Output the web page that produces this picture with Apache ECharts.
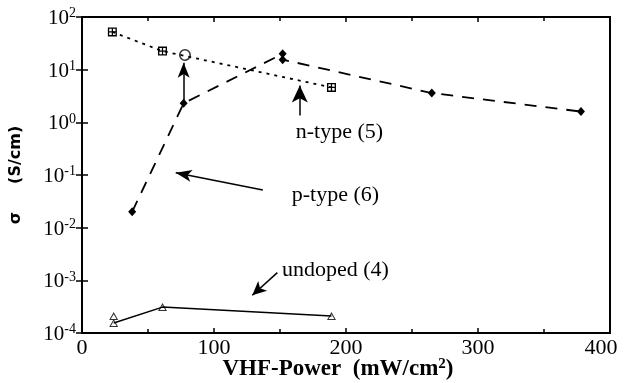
<!DOCTYPE html>
<html><head><meta charset="utf-8">
<script src="https://cdn.jsdelivr.net/npm/echarts@6/dist/echarts.min.js"></script>
<style>html,body{margin:0;padding:0;background:#fff}#c{width:624px;height:383px}</style>
</head><body><div id="c"></div>
<script>
// n-type (5): squares, dotted line
const nTypeX = [23, 61, 189];
const nTypeY = [52, 22.5, 4.6];
// extra open-circle point
const circleX = [78];
const circleY = [19];
// p-type (6): diamonds, dashed line
const pTypeX = [38, 77, 152, 152, 265, 378];
const pTypeY = [0.02, 2.3, 20, 15.5, 3.6, 1.6];
// undoped (4): triangles, solid line
const undopedX = [24, 24, 61, 189];
const undopedY = [2.1e-4, 1.55e-4, 3.1e-4, 2.1e-4];
const undopedLineX = [24, 61, 189];
const undopedLineY = [1.55e-4, 3.1e-4, 2.1e-4];
// axis ticks
const xTicks = [0, 100, 200, 300, 400];
const yTickExps = [-4, -3, -2, -1, 0, 1, 2];
// annotations: [fromX, fromY, toX, toY]
const arrowN = [165, 1.35, 165, 5.0];
const arrowP = [137, 0.052, 71, 0.11];
const arrowU = [148, 1.4e-3, 129, 5.2e-4];
const arrowV = [77, 2.6, 77, 13.5];
const labelN = ['n-type (5)', 195, 0.66];
const labelP = ['p-type (6)', 192, 0.042];
const labelU = ['undoped (4)', 192, 1.55e-3];

const zip = (xs, ys) => xs.map((x, i) => [x, ys[i]]);
const serif = 'Liberation Serif';
const sqPlus = 'path://M0,0 L10,0 L10,10 L0,10 Z M1.5,1.5 L1.5,8.5 L8.5,8.5 L8.5,1.5 Z M4.3,1.5 L5.7,1.5 L5.7,8.5 L4.3,8.5 Z M1.5,4.3 L8.5,4.3 L8.5,5.7 L1.5,5.7 Z';
const openTri = 'path://M5,0 L10,9 L0,9 Z M5,2.4 L1.9,7.8 L8.1,7.8 Z';
const openCirc = 'path://M5,0 A5,5 0 1,1 4.99,0 Z M5,1.3 A3.7,3.7 0 1,0 5.01,1.3 Z';

function arrowLine(a, size) {
  return [{coord: [a[0], a[1]], symbol: 'none'}, {coord: [a[2], a[3]], symbol: 'arrow', symbolSize: size}];
}
function labelPt(l) {
  return {coord: [l[1], l[2]], value: l[0]};
}

const chart = echarts.init(document.getElementById('c'));
chart.setOption({
  animation: false,
  grid: {left: 82, right: 14, top: 17, bottom: 50, containLabel: false, outerBoundsMode: 'none',
    show: true, borderColor: '#000', borderWidth: 2},
  xAxis: [{
    type: 'value', min: 0, max: 400, interval: 100,
    axisLine: {lineStyle: {color: '#000', width: 2}},
    axisTick: {inside: true, length: 5, lineStyle: {color: '#000', width: 1.5}},
    minorTick: {show: true, splitNumber: 2, length: 4, lineStyle: {color: '#000', width: 1.5}},
    splitLine: {show: false},
    axisLabel: {color: '#000', fontFamily: serif, fontSize: 22, margin: 4,
      formatter: v => !xTicks.includes(v) ? '' : (v === xTicks[xTicks.length - 1] ? '{r|' + v + '}' : String(v)),
      rich: {r: {fontFamily: serif, fontSize: 22, color: '#000', padding: [0, 18, 0, 0]}}},
    name: 'VHF-Power  (mW/cm{sup|2})', nameLocation: 'middle', nameGap: 24, nameMoveOverlap: false,
    nameTextStyle: {color: '#000', fontFamily: serif, fontSize: 23, fontWeight: 'bold', padding: [0, 16, 0, 0],
      rich: {sup: {fontSize: 15, fontWeight: 'bold', verticalAlign: 'top', padding: [0, 0, 10, 0], fontFamily: serif}}}
  }, {
    type: 'value', min: 0, max: 400, interval: 100, position: 'top',
    axisLine: {show: false}, axisLabel: {show: false}, splitLine: {show: false},
    axisTick: {inside: true, length: 5, lineStyle: {color: '#000', width: 1.5}},
    minorTick: {show: true, splitNumber: 2, length: 4, lineStyle: {color: '#000', width: 1.5}}
  }],
  yAxis: [{
    type: 'log', min: 1e-4, max: 1e2, logBase: 10,
    axisLine: {lineStyle: {color: '#000', width: 2}},
    axisTick: {inside: true, length: 6, lineStyle: {color: '#000', width: 1.5}},
    splitLine: {show: false},
    axisLabel: {color: '#000', fontFamily: serif, fontSize: 21, margin: 6, padding: [3, 0, 0, 0],
      formatter: v => { const e = Math.round(Math.log10(v)); return yTickExps.includes(e) ? '10{sup|' + e + '}' : ''; },
      rich: {sup: {fontSize: 14, verticalAlign: 'top', padding: [0, 0, 10, 0], fontFamily: serif, color: '#000'}}},
    name: 'σ     (S/cm)', nameLocation: 'middle', nameGap: 58, nameRotate: 90,
    nameTextStyle: {color: '#000', fontFamily: 'DejaVu Sans', fontSize: 16, fontWeight: 'bold'}
  }, {
    type: 'log', min: 1e-4, max: 1e2, logBase: 10, position: 'right',
    axisLine: {show: false}, axisLabel: {show: false}, splitLine: {show: false},
    axisTick: {inside: true, length: 6, lineStyle: {color: '#000', width: 1.5}}
  }],
  series: [
    {
      name: 'n-type', type: 'line', data: zip(nTypeX, nTypeY),
      symbol: sqPlus, symbolSize: 9, showAllSymbol: true,
      lineStyle: {color: '#000', width: 1.8, type: [3, 5]},
      itemStyle: {color: '#000'},
      markLine: {
        silent: true, label: {show: false},
        lineStyle: {color: '#000', width: 1.5, type: 'solid'},
        data: [arrowLine(arrowN, [12, 17]), arrowLine(arrowP, [9, 16]), arrowLine(arrowU, [10, 14]), arrowLine(arrowV, [9, 15])]
      },
      markPoint: {
        symbol: 'circle', symbolSize: 1, itemStyle: {color: 'rgba(0,0,0,0)'},
        label: {show: true, color: '#000', fontFamily: serif, fontSize: 22, formatter: p => p.value, position: 'inside'},
        data: [labelPt(labelN), labelPt(labelP), labelPt(labelU)]
      }
    },
    {
      name: 'circle', type: 'scatter', data: zip(circleX, circleY),
      symbol: openCirc, symbolSize: 12, itemStyle: {color: '#000'}
    },
    {
      name: 'p-type', type: 'line', data: zip(pTypeX, pTypeY),
      symbol: 'diamond', symbolSize: [8, 9], showAllSymbol: true,
      lineStyle: {color: '#000', width: 1.8, type: [12, 9]},
      itemStyle: {color: '#000'}
    },
    {
      name: 'undoped-line', type: 'line', data: zip(undopedLineX, undopedLineY),
      symbol: 'none', lineStyle: {color: '#000', width: 1.5}
    },
    {
      name: 'undoped', type: 'scatter', data: zip(undopedX, undopedY),
      symbol: openTri, symbolSize: [9, 8], itemStyle: {color: '#000'}
    }
  ]
});
</script></body></html>
